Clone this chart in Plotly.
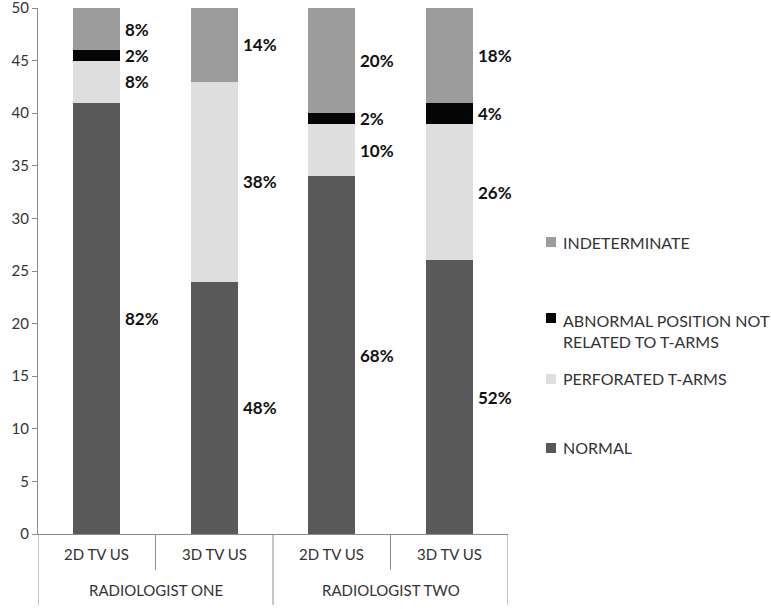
import plotly.graph_objects as go

# ---- data ----
groups = ["RADIOLOGIST ONE", "RADIOLOGIST TWO"]
methods = ["2D TV US", "3D TV US", "2D TV US", "3D TV US"]
series_names = ["NORMAL", "PERFORATED T-ARMS",
                "ABNORMAL POSITION NOT<br>RELATED TO T-ARMS", "INDETERMINATE"]
normal = [41, 24, 34, 26]
perforated = [4, 19, 5, 13]
abnormal = [1, 0, 1, 2]
indeterminate = [4, 7, 10, 9]
labels_normal = ["82%", "48%", "68%", "52%"]
labels_perforated = ["8%", "38%", "10%", "26%"]
labels_abnormal = ["2%", "", "2%", "4%"]
labels_indeterminate = ["8%", "14%", "20%", "18%"]
y_ticks = [0, 5, 10, 15, 20, 25, 30, 35, 40, 45, 50]

series = [normal, perforated, abnormal, indeterminate]
series_labels = [labels_normal, labels_perforated, labels_abnormal, labels_indeterminate]
colors = ["#595959", "#dedede", "#050505", "#9c9c9c"]

FONT = "Lato"
TXT = "#333333"
AX = "#8c8c8c"
BARW = 0.4

x_idx = list(range(len(methods)))
fig = go.Figure()
for name, vals, col in zip(series_names, series, colors):
    fig.add_trace(go.Bar(x=x_idx, y=vals, name=name, marker=dict(color=col, line=dict(width=0)),
                         width=BARW, showlegend=False, hoverinfo="y"))

annotations = []
# data labels to right of bars at segment centres
base = [0] * len(methods)
for vals, labs in zip(series, series_labels):
    for i, (v, lab) in enumerate(zip(vals, labs)):
        if v > 0 and lab:
            annotations.append(dict(x=i + BARW / 2, y=base[i] + v / 2, xref="x", yref="y",
                                    text=f"<b>{lab}</b>", showarrow=False, xanchor="left",
                                    yanchor="middle", xshift=3,
                                    font=dict(family=FONT, size=17, color="#111111")))
        base[i] += v

# category axis labels
for i, m in enumerate(methods):
    annotations.append(dict(x=i, y=-0.038, xref="x", yref="paper", text=m, showarrow=False,
                            yanchor="middle", font=dict(family=FONT, size=15, color=TXT)))
for g, name in enumerate(groups):
    annotations.append(dict(x=2 * g + 0.5, y=-0.106, xref="x", yref="paper", text=name,
                            showarrow=False, yanchor="middle",
                            font=dict(family=FONT, size=15, color=TXT)))

shapes = []
for b in [-0.5, 0.5, 1.5, 2.5, 3.5]:
    low = -0.135 if b in (-0.5, 1.5, 3.5) else -0.068
    shapes.append(dict(type="line", xref="x", yref="paper", x0=b, x1=b, y0=0, y1=low,
                       line=dict(color=AX, width=1)))

# manual legend (reversed order)
leg_y = [0.1635, 0.2947, 0.4106, 0.555]
for name, col, yy in zip(series_names, colors, leg_y):
    shapes.append(dict(type="rect", xref="paper", yref="paper",
                       x0=1.0915 - 0.0106, x1=1.0915 + 0.0106, y0=yy - 0.0095, y1=yy + 0.0095,
                       fillcolor=col, line=dict(width=0)))
    two = "<br>" in name
    annotations.append(dict(x=1.1128, y=yy + (0.0171 if two else 0), xref="paper", yref="paper",
                            text=name, showarrow=False, xanchor="left",
                            yanchor="top" if two else "middle", align="left",
                            font=dict(family=FONT, size=16, color=TXT)))

fig.update_layout(
    width=771, height=609,
    margin=dict(l=38, r=263, t=8, b=75, autoexpand=False),
    paper_bgcolor="white", plot_bgcolor="white",
    barmode="stack", bargap=0,
    font=dict(family=FONT, size=15, color=TXT),
    xaxis=dict(range=[-0.5, 3.5], showticklabels=False, ticks="", showgrid=False,
               zeroline=False, showline=True, linecolor=AX, linewidth=1, automargin=False),
    yaxis=dict(range=[0, 50], tickvals=y_ticks, ticks="outside", ticklen=5, tickcolor=AX,
               showgrid=False, zeroline=False, showline=True, linecolor=AX, linewidth=1,
               automargin=False, ticklabeloverflow="allow",
               tickfont=dict(family=FONT, size=15, color=TXT)),
    annotations=annotations, shapes=shapes,
)
fig.write_html("out.html", config={"displayModeBar": False},
               post_script="document.body.style.margin='0';document.body.style.overflow='hidden';")
